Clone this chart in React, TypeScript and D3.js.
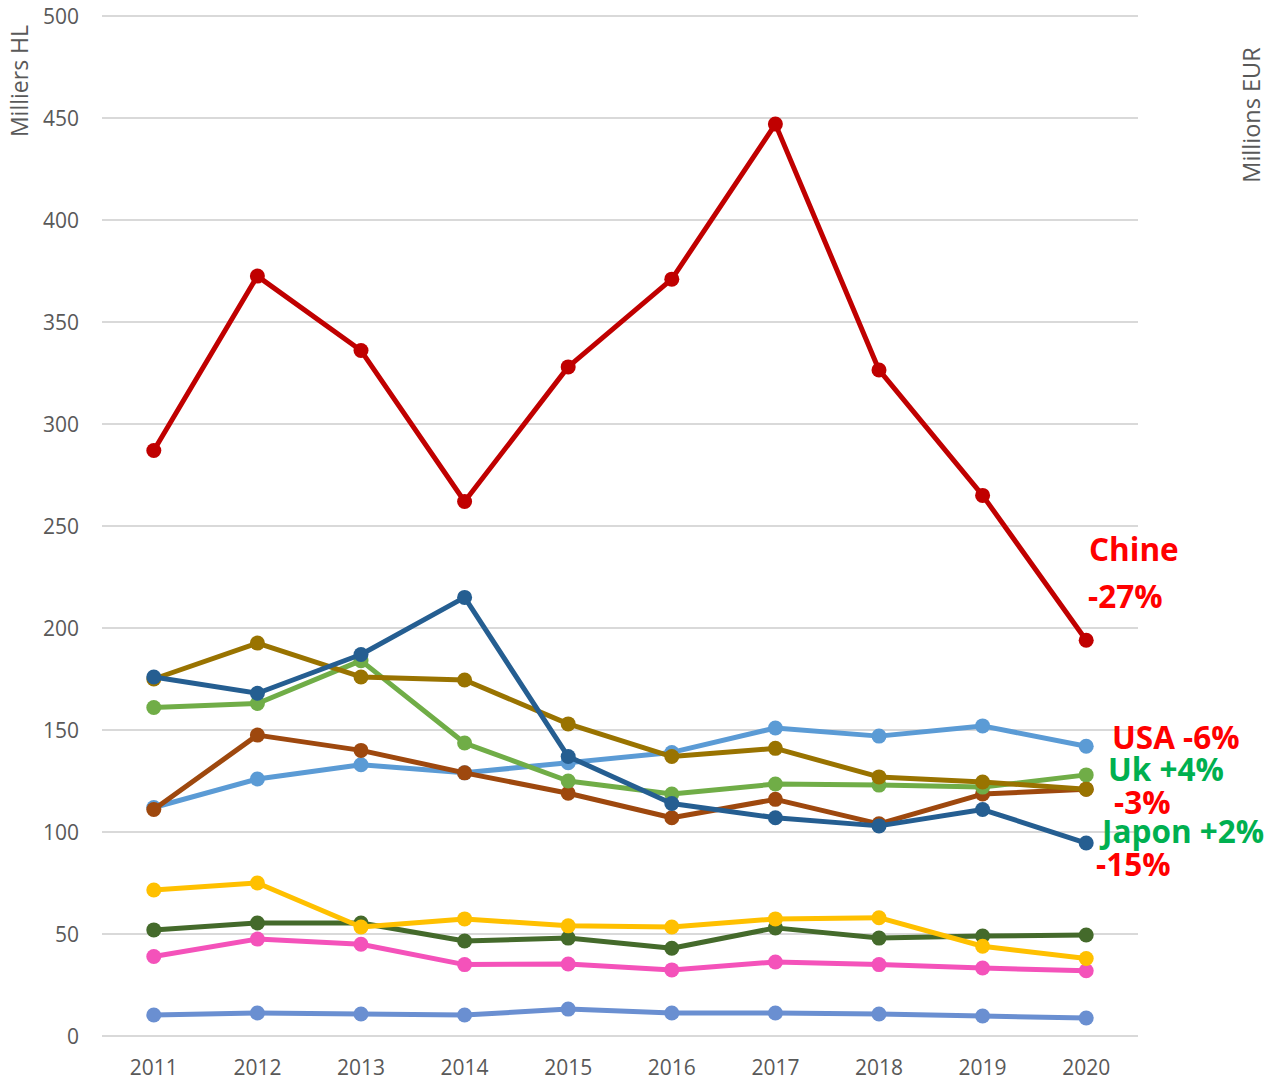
import React, { useEffect, useRef } from 'react';
import * as d3 from 'd3';

const years = ['2011', '2012', '2013', '2014', '2015', '2016', '2017', '2018', '2019', '2020'];
const yTicks = [0, 50, 100, 150, 200, 250, 300, 350, 400, 450, 500];

// series values (milliers HL)
const periwinkle = [10.3, 11.3, 10.8, 10.3, 13.2, 11.3, 11.3, 10.8, 9.8, 8.8];
const pink = [39, 47.5, 45, 35, 35.3, 32.4, 36.3, 35, 33.3, 32];
const darkGreen = [52, 55.4, 55.4, 46.6, 48, 43, 53, 48, 49, 49.5];
const yellow = [71.6, 75, 53.4, 57.4, 54, 53.4, 57.4, 58, 44, 38];
const usa = [112, 126, 133, 129, 134, 139, 151, 147, 152, 142];
const brown = [111, 147.5, 140, 129, 119, 107, 116, 104, 118.6, 121];
const uk = [161, 163, 184, 143.6, 125, 118.6, 123.5, 123, 122, 128];
const gold = [175, 192.6, 176, 174.5, 153, 137, 141, 127, 124.5, 121];
const japon = [176, 168, 187, 215, 137, 114, 107, 103, 111, 94.6];
const chine = [287, 372.5, 336, 262, 328, 371, 447, 326.5, 265, 194];

const series = [
  { name: 'periwinkle', values: periwinkle, color: '#6A8FD1' },
  { name: 'pink', values: pink, color: '#F452BA' },
  { name: 'darkGreen', values: darkGreen, color: '#446A2B' },
  { name: 'yellow', values: yellow, color: '#FFC000' },
  { name: 'usa', values: usa, color: '#5B9BD5' },
  { name: 'brown', values: brown, color: '#9E480E' },
  { name: 'uk', values: uk, color: '#70AD47' },
  { name: 'gold', values: gold, color: '#997300' },
  { name: 'japon', values: japon, color: '#255E91' },
  { name: 'chine', values: chine, color: '#C00000' },
];

const annotations = [
  { text: 'Chine', x: 1089, y: 561, color: '#FF0000' },
  { text: '-27%', x: 1088, y: 608, color: '#FF0000' },
  { text: 'USA -6%', x: 1112, y: 749, color: '#FF0000' },
  { text: 'Uk +4%', x: 1108, y: 781, color: '#00B050' },
  { text: '-3%', x: 1114, y: 814, color: '#FF0000' },
  { text: 'Japon +2%', x: 1102, y: 843, color: '#00B050' },
  { text: '-15%', x: 1096, y: 876, color: '#FF0000' },
];

const W = 1277;
const H = 1081;

const App: React.FC = () => {
  const ref = useRef<SVGSVGElement | null>(null);

  useEffect(() => {
    if (!ref.current) return;
    const svg = d3.select(ref.current);
    svg.selectAll('*').remove();

    const x = d3.scaleBand<string>().domain(years).range([102, 1138]);
    const cx = (d: string) => (x(d) as number) + x.bandwidth() / 2;
    const y = d3.scaleLinear().domain([0, 500]).range([1036, 16]);

    // gridlines
    svg
      .append('g')
      .selectAll('line')
      .data(yTicks)
      .enter()
      .append('line')
      .attr('x1', 102)
      .attr('x2', 1138)
      .attr('y1', (d) => y(d))
      .attr('y2', (d) => y(d))
      .attr('stroke', '#D9D9D9')
      .attr('stroke-width', 2);

    // y tick labels
    svg
      .append('g')
      .selectAll('text')
      .data(yTicks)
      .enter()
      .append('text')
      .attr('x', 79)
      .attr('y', (d) => y(d) + 7.5)
      .attr('text-anchor', 'end')
      .attr('font-family', 'Open Sans')
      .attr('font-size', 21)
      .attr('fill', '#595959')
      .text((d) => d);

    // x tick labels
    svg
      .append('g')
      .selectAll('text')
      .data(years)
      .enter()
      .append('text')
      .attr('x', (d) => cx(d))
      .attr('y', 1075)
      .attr('text-anchor', 'middle')
      .attr('font-family', 'Open Sans')
      .attr('font-size', 21)
      .attr('fill', '#595959')
      .text((d) => d);

    // axis titles
    svg
      .append('text')
      .attr('transform', 'translate(28,81) rotate(-90)')
      .attr('text-anchor', 'middle')
      .attr('font-family', 'Open Sans')
      .attr('font-size', 23)
      .attr('fill', '#595959')
      .text('Milliers HL');

    svg
      .append('text')
      .attr('transform', 'translate(1260,115) rotate(-90)')
      .attr('text-anchor', 'middle')
      .attr('font-family', 'Open Sans')
      .attr('font-size', 23.5)
      .attr('fill', '#595959')
      .text('Millions EUR');

    const line = d3
      .line<number>()
      .x((_, i) => cx(years[i]))
      .y((d) => y(d));

    series.forEach((s) => {
      const g = svg.append('g');
      g.append('path')
        .attr('d', line(s.values) as string)
        .attr('fill', 'none')
        .attr('stroke', s.color)
        .attr('stroke-width', 5)
        .attr('stroke-linejoin', 'round');
      g.selectAll('circle')
        .data(s.values)
        .enter()
        .append('circle')
        .attr('cx', (_, i) => cx(years[i]))
        .attr('cy', (d) => y(d))
        .attr('r', 7.5)
        .attr('fill', s.color);
    });

    // annotations
    svg
      .append('g')
      .selectAll('text')
      .data(annotations)
      .enter()
      .append('text')
      .attr('x', (d) => d.x)
      .attr('y', (d) => d.y)
      .attr('font-family', 'Open Sans')
      .attr('font-weight', 'bold')
      .attr('font-size', 31.5)
      .attr('fill', (d) => d.color)
      .text((d) => d.text);
  }, []);

  return (
    <svg
      ref={ref}
      width={W}
      height={H}
      style={{ position: 'absolute', left: 0, top: 0, background: '#fff' }}
    ></svg>
  );
};

export default App;
